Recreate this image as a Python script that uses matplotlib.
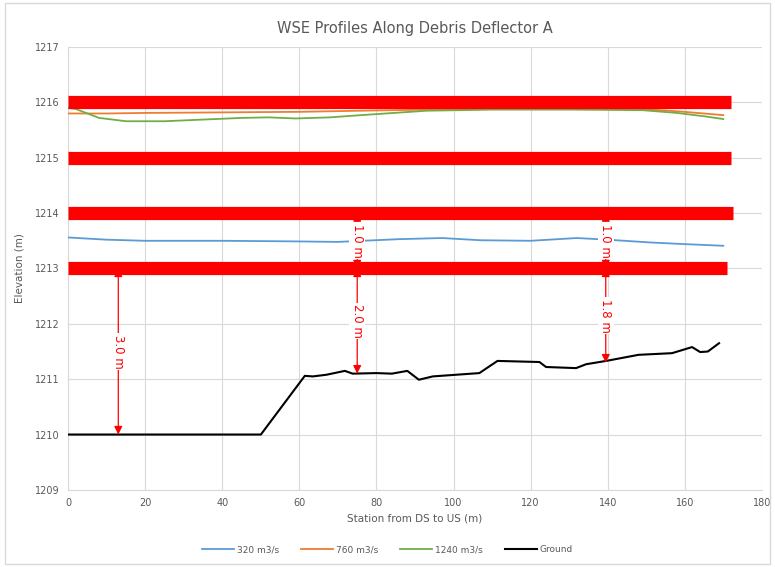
import matplotlib
matplotlib.use('Agg')
from matplotlib import pyplot as plt
from matplotlib.patches import Rectangle

# water surface profiles (station, elevation)
station_320 = [0, 10, 20, 40, 58, 70, 86, 97, 107, 120, 132, 140, 151, 160, 170]
wse_320 = [1213.56, 1213.52, 1213.50, 1213.50, 1213.49, 1213.48, 1213.53, 1213.55, 1213.51, 1213.50, 1213.55, 1213.52, 1213.47, 1213.44, 1213.41]

station_760 = [0, 10, 20, 40, 60, 76, 93, 110, 130, 149, 158, 165, 170]
wse_760 = [1215.80, 1215.80, 1215.81, 1215.82, 1215.83, 1215.85, 1215.87, 1215.88, 1215.88, 1215.88, 1215.84, 1215.80, 1215.77]

station_1240 = [0, 2, 8, 15, 25, 45, 52, 59, 68, 76, 93, 110, 130, 149, 158, 165, 170]
wse_1240 = [1215.90, 1215.88, 1215.72, 1215.66, 1215.66, 1215.72, 1215.73, 1215.71, 1215.73, 1215.77, 1215.85, 1215.87, 1215.87, 1215.86, 1215.81, 1215.75, 1215.70]

station_ground = [0, 50, 61.4, 63.5, 67, 71.8, 73.8, 80, 84, 88, 91, 94.6, 106.7, 111.4, 122.3, 124, 131.8, 134.4,
                  139.6, 148, 156.7, 161.9, 164, 166, 168.9]
elev_ground = [1210.0, 1210.0, 1211.06, 1211.05, 1211.08, 1211.15, 1211.10, 1211.11, 1211.10, 1211.15, 1210.99, 1211.05,
               1211.11, 1211.33, 1211.31, 1211.22, 1211.20, 1211.27, 1211.33, 1211.44, 1211.47, 1211.58, 1211.49,
               1211.50, 1211.65]

# red reference bands
band_levels = [1213, 1214, 1215, 1216]
band_ends = [171, 172.5, 172, 172]

# depth callouts: station, top, bottom, label
callout_x = [13, 75, 75, 139.5, 139.5]
callout_top = [1213, 1214, 1213, 1214, 1213]
callout_bot = [1210, 1213, 1211.1, 1213, 1211.3]
callout_text = ['3.0 m', '1.0 m', '2.0 m', '1.0 m', '1.8 m']

grey = '#595959'

fig = plt.figure(figsize=(7.75, 5.67), dpi=100)
fig.patches.append(Rectangle((0.006, 0.006), 0.988, 0.988, transform=fig.transFigure,
                             fill=False, edgecolor='#d9d9d9', lw=1))
ax = fig.add_axes([0.088, 0.136, 0.895, 0.781])

ax.plot(station_320, wse_320, color='#5b9bd5', lw=1.3, label='320 m3/s', zorder=3)
ax.plot(station_760, wse_760, color='#ed7d31', lw=1.3, label='760 m3/s', zorder=3)
ax.plot(station_1240, wse_1240, color='#70ad47', lw=1.3, label='1240 m3/s', zorder=3)
ax.plot(station_ground, elev_ground, color='black', lw=1.5, label='Ground', zorder=3)

for lvl, end in zip(band_levels, band_ends):
    ax.plot([0, end], [lvl, lvl], color='red', lw=9.5, solid_capstyle='butt', zorder=4, clip_on=False)

for x, top, bot, txt in zip(callout_x, callout_top, callout_bot, callout_text):
    ax.annotate('', xy=(x, bot), xytext=(x, top),
                arrowprops=dict(arrowstyle='<|-|>', color='red', lw=0.9, mutation_scale=12,
                                shrinkA=0, shrinkB=0), zorder=3)
    ax.text(x, (top + bot) / 2, txt, rotation=270, ha='center', va='center', color='red', fontsize=8.5,
            bbox=dict(facecolor='white', edgecolor='none', pad=1), zorder=3)

ax.set_xlim(0, 180)
ax.set_ylim(1209, 1217)
ax.set_xticks(range(0, 181, 20))
ax.set_yticks(range(1209, 1218))
ax.grid(True, color='#d9d9d9', lw=0.8)
ax.set_axisbelow(True)
for s in ['top', 'right']:
    ax.spines[s].set_visible(False)
for s in ['left', 'bottom']:
    ax.spines[s].set_color('#d9d9d9')
ax.tick_params(length=0, labelsize=7, labelcolor=grey, pad=6)

ax.set_title('WSE Profiles Along Debris Deflector A', fontsize=10.5, color=grey, pad=10)
ax.set_xlabel('Station from DS to US (m)', fontsize=7.5, color=grey, labelpad=4)
ax.set_ylabel('Elevation (m)', fontsize=7.5, color=grey, labelpad=8)

fig.legend(loc='center', bbox_to_anchor=(0.5, 0.03), ncol=4, frameon=False, fontsize=6.5,
           labelcolor=grey, handlelength=3.5, columnspacing=2.5, handletextpad=0.3)

fig.savefig('out.png', dpi=100)
